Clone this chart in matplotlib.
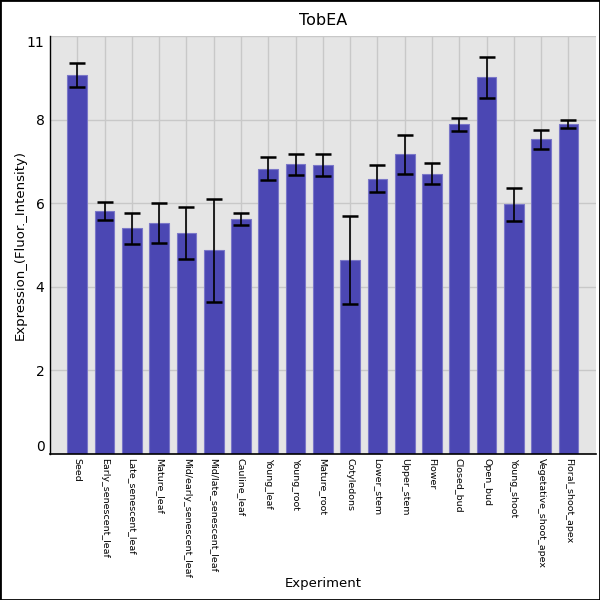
import numpy as np
import matplotlib.pyplot as plt
from matplotlib.patches import Rectangle

samples = ['Seed', 'Early_senescent_leaf', 'Late_senescent_leaf', 'Mature_leaf',
           'Mid/early_senescent_leaf', 'Mid/late_senescent_leaf', 'Cauline_leaf',
           'Young_leaf', 'Young_root', 'Mature_root', 'Cotyledons', 'Lower_stem',
           'Upper_stem', 'Flower', 'Closed_bud', 'Open_bud', 'Young_shoot',
           'Vegetative_shoot_apex', 'Floral_shoot_apex']
means = [9.07, 5.82, 5.40, 5.52, 5.28, 4.87, 5.62, 6.83, 6.93, 6.91,
         4.65, 6.59, 7.17, 6.71, 7.89, 9.01, 5.97, 7.53, 7.90]
errs = [0.29, 0.21, 0.37, 0.48, 0.62, 1.23, 0.14, 0.27, 0.25, 0.27,
        1.05, 0.33, 0.47, 0.24, 0.16, 0.49, 0.40, 0.23, 0.10]
yticks = [0, 2, 4, 6, 8, 10]
ytick_labels = ['0', '2', '4', '6', '8', '11']

fig = plt.figure(figsize=(6, 6), dpi=100)
ax = fig.add_axes([50 / 600, 146 / 600, 546 / 600, 418 / 600])
ax.set_facecolor('#e5e5e5')

x = np.arange(len(samples))
ax.bar(x, means, width=0.72, color='#4b47b3', edgecolor='#7a77c8',
       linewidth=0.8, zorder=2)
ax.errorbar(x, means, yerr=errs, fmt='none', ecolor='black', elinewidth=1.2,
            capsize=5.5, capthick=1.8, zorder=3)

ax.set_xlim(-1, len(samples) + 0.01)
ax.set_ylim(0, 10)
ax.set_xticks(x)
ax.set_xticklabels(samples, rotation=270, fontsize=6.8, va='top', ha='center')
ax.set_yticks(yticks)
ax.set_yticklabels(ytick_labels, fontsize=10)
ylabels = ax.get_yticklabels()
ylabels[0].set_va('bottom')
ylabels[-1].set_va('top')
ax.tick_params(length=0, pad=4)
ax.tick_params(axis='x', pad=3)
ax.grid(True, color='#c8c8c8', linewidth=1, zorder=0)
ax.set_axisbelow(True)
for s in ['top', 'right']:
    ax.spines[s].set_visible(False)
ax.spines['left'].set_linewidth(1)
ax.spines['bottom'].set_linewidth(1.2)

ax.set_title('TobEA', fontsize=11.5, pad=8)
ax.set_ylabel('Expression_(Fluor._Intensity)', fontsize=9.5, labelpad=0)
fig.text(323 / 600, 1 - 584 / 600, 'Experiment', ha='center', va='center',
         fontsize=9.5)

fig.patches.append(Rectangle((0, 0), 1, 1, transform=fig.transFigure,
                             fill=False, edgecolor='black', linewidth=2))

fig.savefig('out.png', dpi=100)
